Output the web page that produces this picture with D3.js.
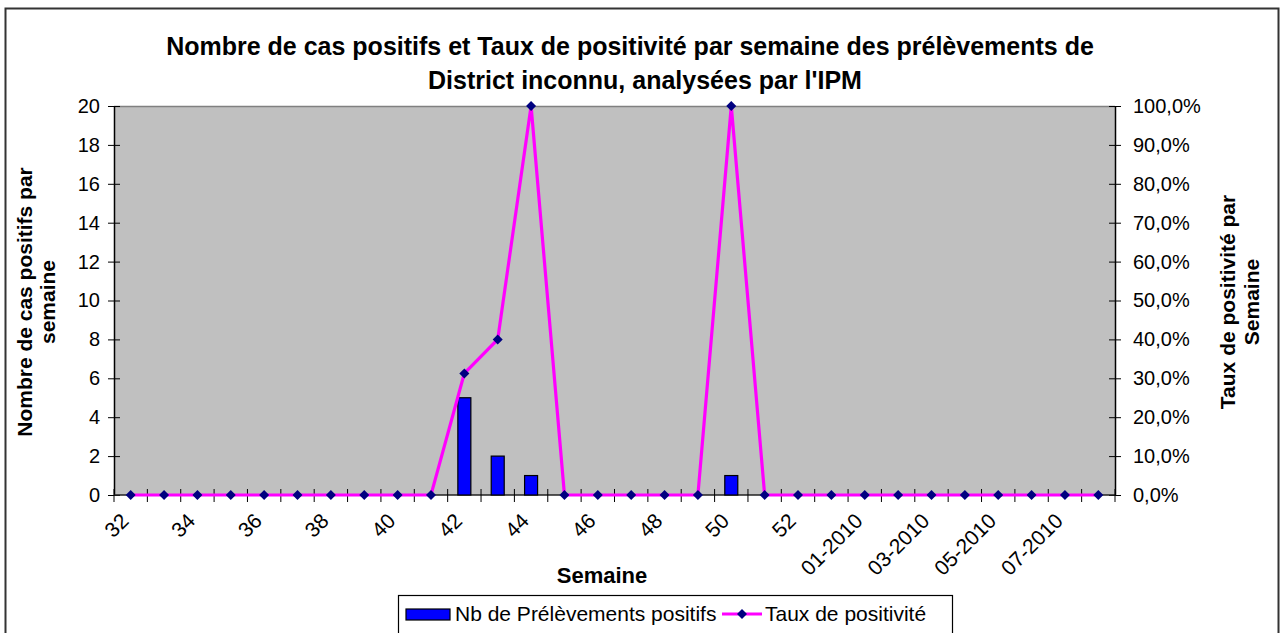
<!DOCTYPE html>
<html>
<head>
<meta charset="utf-8">
<script src="https://cdn.jsdelivr.net/npm/d3@7"></script>
<style>
  body { margin: 0; background: #fff; }
  text { font-family: "Liberation Sans", Arial, sans-serif; }
</style>
</head>
<body>
<div id="chart"></div>
<script>
// week labels (2009 has an ISO week 53)
const weeks = ["32","33","34","35","36","37","38","39","40","41","42","43","44","45","46","47","48","49","50","51","52","53",
  "01-2010","02-2010","03-2010","04-2010","05-2010","06-2010","07-2010","08-2010"];
// Nb de Prélèvements positifs
const cases = [0,0,0,0,0,0,0,0,0,0,5,2,1,0,0,0,0,0,1,0,0,0,0,0,0,0,0,0,0,0];
// Taux de positivité
const rates = [0,0,0,0,0,0,0,0,0,0,0.3125,0.40,1,0,0,0,0,0,1,0,0,0,0,0,0,0,0,0,0,0];
const leftTicks = [0,2,4,6,8,10,12,14,16,18,20];
const rightTicks = [0,0.1,0.2,0.3,0.4,0.5,0.6,0.7,0.8,0.9,1];

const W = 1283, H = 633;
const plot = {left: 114, right: 1115, top: 106, bottom: 495};

const svg = d3.select("#chart").append("svg")
    .attr("width", W)
    .attr("height", H);

// outer chart border
svg.append("rect")
    .attr("x", 5.5).attr("y", 8.5)
    .attr("width", 1273).attr("height", 700)
    .attr("fill", "#fff")
    .attr("stroke", "#333").attr("stroke-width", 2);

//Title
const title = svg.append("g")
    .attr("font-weight", "bold")
    .attr("font-size", 25)
    .attr("text-anchor", "middle");
title.append("text").attr("x", 630).attr("y", 55)
    .text("Nombre de cas positifs et Taux de positivité par semaine des prélèvements de");
title.append("text").attr("x", 645).attr("y", 89)
    .text("District inconnu, analysées par l'IPM");

//Scales
const x = d3.scaleBand().domain(weeks).range([plot.left, plot.right]);
const yL = d3.scaleLinear().domain([0, 20]).range([plot.bottom, plot.top]);
const yR = d3.scaleLinear().domain([0, 1]).range([plot.bottom, plot.top]);
const cx = d => x(d) + x.bandwidth() / 2;

//Plot area
svg.append("rect")
    .attr("x", plot.left).attr("y", plot.top)
    .attr("width", plot.right - plot.left)
    .attr("height", plot.bottom - plot.top)
    .attr("fill", "#c0c0c0");
svg.append("line")
    .attr("x1", plot.left).attr("x2", plot.right)
    .attr("y1", plot.top + 0.5).attr("y2", plot.top + 0.5)
    .attr("stroke", "#808080").attr("stroke-width", 1.5);

//Left axis
const gL = svg.append("g")
    .attr("transform", "translate(" + plot.left + ",0)")
    .call(d3.axisLeft(yL).tickValues(leftTicks).tickSizeInner(6).tickSizeOuter(0).tickPadding(8));
gL.selectAll(".tick line").attr("x2", 6).attr("x1", -6).attr("stroke", "#000");
gL.select(".domain").attr("stroke", "#000").attr("stroke-width", 1.5);
gL.selectAll(".tick text").attr("font-size", 20).attr("fill", "#000")
    .attr("font-family", "Liberation Sans, Arial, sans-serif");

//Right axis
const gR = svg.append("g")
    .attr("transform", "translate(" + plot.right + ",0)")
    .call(d3.axisRight(yR).tickValues(rightTicks).tickSizeInner(6).tickSizeOuter(0).tickPadding(12)
        .tickFormat(d => (d * 100).toFixed(1).replace(".", ",") + "%"));
gR.selectAll(".tick line").attr("x1", -6).attr("x2", 6).attr("stroke", "#000");
gR.select(".domain").attr("stroke", "#000").attr("stroke-width", 1.5);
gR.selectAll(".tick text").attr("font-size", 20).attr("fill", "#000")
    .attr("font-family", "Liberation Sans, Arial, sans-serif");

//Bottom axis, ticks between categories
const gX = svg.append("g");
gX.append("line")
    .attr("x1", plot.left).attr("x2", plot.right)
    .attr("y1", plot.bottom).attr("y2", plot.bottom)
    .attr("stroke", "#222").attr("stroke-width", 1.5);
gX.selectAll(".xtick")
    .data(weeks.concat(["end"]))
    .enter().append("line")
    .attr("x1", (d, i) => i < weeks.length ? x(d) : plot.right)
    .attr("x2", (d, i) => i < weeks.length ? x(d) : plot.right)
    .attr("y1", plot.bottom - 6).attr("y2", plot.bottom + 7)
    .attr("stroke", "#000");
gX.selectAll(".xlabel")
    .data(weeks.filter((d, i) => i % 2 === 0))
    .enter().append("text")
    .attr("font-size", 21)
    .attr("text-anchor", "end")
    .attr("dy", "0.35em")
    .attr("transform", d => "translate(" + (cx(d) - 6) + "," + (plot.bottom + 22) + ") rotate(-45)")
    .text(d => d);

//Axis titles
svg.append("text")
    .attr("x", 602).attr("y", 583)
    .attr("text-anchor", "middle")
    .attr("font-weight", "bold").attr("font-size", 22)
    .text("Semaine");

const tL = svg.append("g")
    .attr("transform", "translate(0,302) rotate(-90)")
    .attr("text-anchor", "middle").attr("font-weight", "bold").attr("font-size", 21);
tL.append("text").attr("x", 0).attr("y", 32).text("Nombre de cas positifs par");
tL.append("text").attr("x", 0).attr("y", 55).text("semaine");

const tR = svg.append("g")
    .attr("transform", "translate(0,302) rotate(-90)")
    .attr("text-anchor", "middle").attr("font-weight", "bold").attr("font-size", 21);
tR.append("text").attr("x", 0).attr("y", 1235).text("Taux de positivité par");
tR.append("text").attr("x", 0).attr("y", 1259).text("Semaine");

//Bars
svg.selectAll(".bar")
    .data(weeks.map((w, i) => ({w: w, v: cases[i]})).filter(d => d.v > 0))
    .enter().append("rect")
    .attr("class", "bar")
    .attr("x", d => cx(d.w) - 6.5)
    .attr("width", 13)
    .attr("y", d => yL(d.v))
    .attr("height", d => yL(0) - yL(d.v))
    .attr("fill", "#0000ff")
    .attr("stroke", "#000").attr("stroke-width", 1.2);

//Rate line
const pts = weeks.map((w, i) => ({w: w, v: rates[i]}));
const line = d3.line()
    .x(d => cx(d.w))
    .y(d => yR(d.v));
svg.append("path")
    .datum(pts)
    .attr("d", line)
    .attr("fill", "none")
    .attr("stroke", "#ff00ff")
    .attr("stroke-width", 3.2);

const diamond = d3.symbol().type(d3.symbolDiamond2).size(64);
svg.selectAll(".marker")
    .data(pts)
    .enter().append("path")
    .attr("d", diamond)
    .attr("transform", d => "translate(" + cx(d.w) + "," + yR(d.v) + ")")
    .attr("fill", "#000080");

//Legend
const lg = svg.append("g");
lg.append("rect")
    .attr("x", 398.5).attr("y", 595.5)
    .attr("width", 554).attr("height", 60)
    .attr("fill", "#fff").attr("stroke", "#000").attr("stroke-width", 1.2);
lg.append("rect")
    .attr("x", 406).attr("y", 609).attr("width", 44).attr("height", 11)
    .attr("fill", "#0000ff").attr("stroke", "#000").attr("stroke-width", 1.2);
lg.append("text").attr("x", 455).attr("y", 621).attr("font-size", 21)
    .text("Nb de Prélèvements positifs");
lg.append("line")
    .attr("x1", 722).attr("x2", 762).attr("y1", 614).attr("y2", 614)
    .attr("stroke", "#ff00ff").attr("stroke-width", 3);
lg.append("path")
    .attr("d", diamond)
    .attr("transform", "translate(742,614)")
    .attr("fill", "#000080");
lg.append("text").attr("x", 765).attr("y", 621).attr("font-size", 21)
    .text("Taux de positivité");
</script>
</body>
</html>
